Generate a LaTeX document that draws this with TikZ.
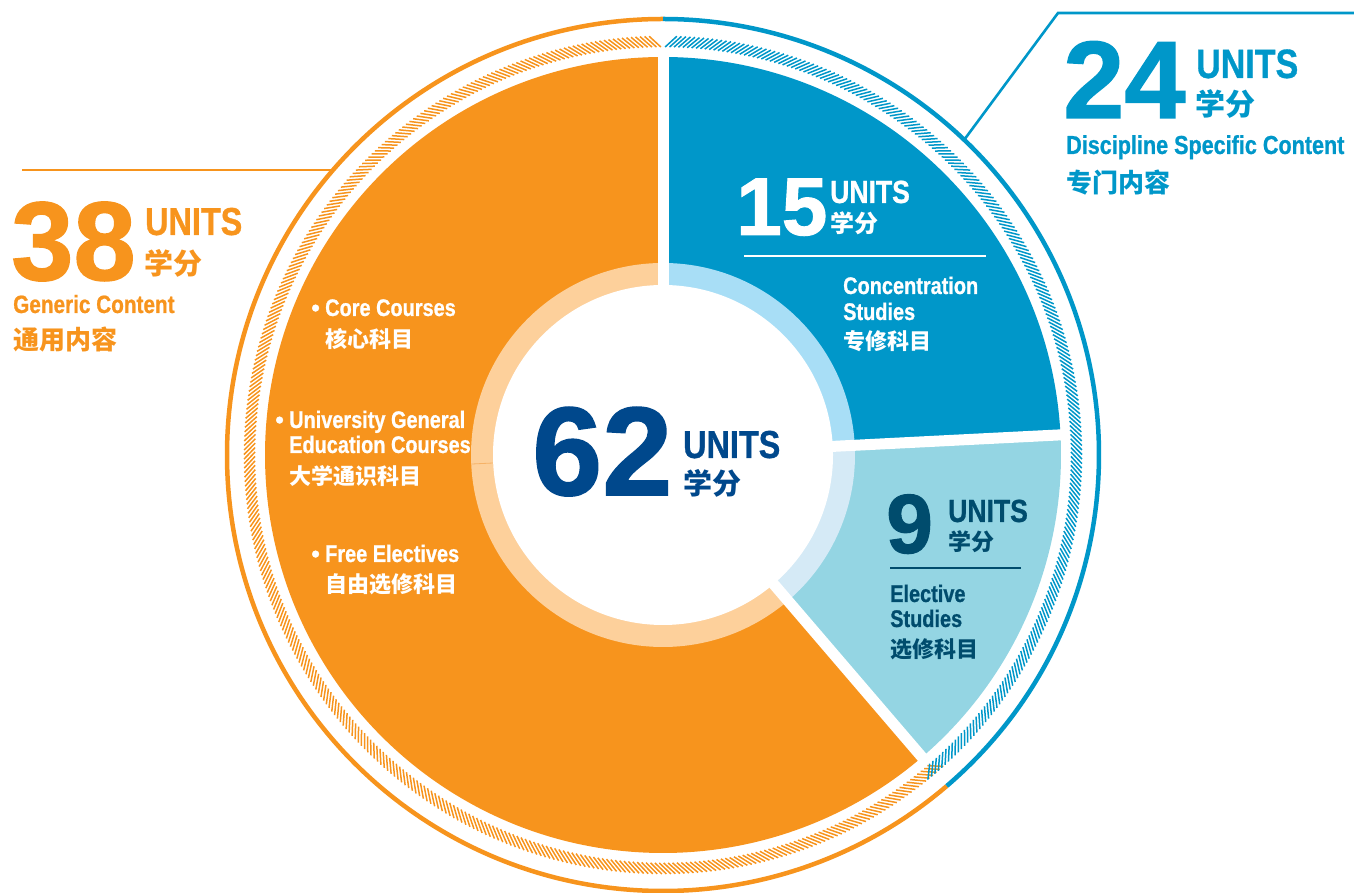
\documentclass[tikz,border=0pt]{standalone}
\usepackage{fontspec}
\setmainfont{Liberation Sans}[FakeBold=1.2]
\newfontfamily\cnd{Liberation Sans}[FakeStretch=0.83, FakeBold=0.8]
\newfontfamily\cjk{Noto Sans CJK SC}
\definecolor{orangeM}{HTML}{F7941D}
\definecolor{orangeL}{HTML}{FDD09B}
\definecolor{orangeS}{HTML}{F6B266}
\definecolor{blueM}{HTML}{0097C9}
\definecolor{blueL}{HTML}{A8DEF6}
\definecolor{tealM}{HTML}{94D5E3}
\definecolor{tealL}{HTML}{D5EAF6}
\definecolor{navy}{HTML}{00488C}
\definecolor{dteal}{HTML}{004C6D}
\tikzset{
  num/.style={font=\bfseries\fontsize{#1}{#1}\selectfont, inner sep=0pt, anchor=base west, text depth=0pt, text height=0.72em},
  cu/.style={font=\cnd\bfseries\fontsize{#1}{#1}\selectfont, inner sep=0pt, anchor=base west, text depth=0pt},
  cj/.style={font=\cjk\bfseries\fontsize{#1}{#1}\selectfont, inner sep=0pt, anchor=base west, text depth=0pt, text height=0.8em},
  bul/.style={font=\bfseries\fontsize{#1}{#1}\selectfont, inner sep=0pt, anchor=base east},
  gap/.style={white, line width=11pt},
  rim/.style={line width=4.5pt},
  tick/.style={line width=1.5pt},
  leader/.style={line width=2.6pt},
}
\begin{document}
\begin{tikzpicture}[x=1pt,y=1pt]
\useasboundingbox (0,0) rectangle (1354,893);
\coordinate (C) at (663,438);
\begin{scope}[shift={(C)}]
  % pie slices
  \fill[orangeM] (0,0) -- (90:398) arc[start angle=90, end angle=310.6, radius=398] -- cycle;
  \fill[blueM] (0,0) -- (2.9:398) arc[start angle=2.9, end angle=90, radius=398] -- cycle;
  \fill[tealM] (0,0) -- (-49.4:398) arc[start angle=-49.4, end angle=2.9, radius=398] -- cycle;
  % light inner ring
  \fill[orangeL] (0,0) -- (90:192) arc[start angle=90, end angle=310.6, radius=192] -- cycle;
  \fill[blueL] (0,0) -- (2.9:192) arc[start angle=2.9, end angle=90, radius=192] -- cycle;
  \fill[tealL] (0,0) -- (-49.4:192) arc[start angle=-49.4, end angle=2.9, radius=192] -- cycle;
  \draw[orangeS, line width=0.8pt] (182.7:170) -- (182.7:192);
  % gaps
  \draw[gap] (0,0) -- (90:401);
  \draw[gap] (0,0) -- (2.9:401);
  \draw[gap] (0,0) -- (-49.4:401);
  \fill[white] (0,0) circle[radius=170];
  % hatched ring
  \foreach \i in {0,...,355}{
    \pgfmathsetmacro\a{90.3+\i*0.62}
    \pgfmathsetmacro\b{\a+1.6}
    \draw[tick, orangeM] (\a:408) -- (\b:419);
  }
  \foreach \i in {0,...,224}{
    \pgfmathsetmacro\a{89.7-\i*0.62}
    \pgfmathsetmacro\b{\a-1.6}
    \draw[tick, blueM] (\a:408) -- (\b:419);
  }
  % outer rim
  \draw[rim, orangeM] (90:436) arc[start angle=90, end angle=310.6, radius=436];
  \draw[rim, blueM] (-49.4:436) arc[start angle=-49.4, end angle=90, radius=436];
  \coordinate (bl0) at (46.3:436);
\end{scope}
% leaders
\coordinate (ol0) at (22,723);
\coordinate (ol1) at (333,723);
\draw[leader, orangeM] (ol0) -- (ol1);
\coordinate (bl1) at (1058,880);
\coordinate (bl2) at (1354,880);
\draw[leader, blueM] (bl0) -- (bl1) -- (bl2);

% top right block
\node[num=110, text=blueM] (n24) at (1063,775) {24};
\node[cu=41, text=blueM] (u24) at (1196,815) {UNITS};
\node[cj=30, text=blueM] (x24) at (1195,777) {学分};
\node[cu=26, text=blueM] (d24) at (1066,739) {Discipline Specific Content};
\node[cj=26, text=blueM] (c24) at (1066,700) {专门内容};

% left block
\node[num=112, text=orangeM] (n38) at (11,613) {38};
\node[cu=39, text=orangeM] (u38) at (145,658) {UNITS};
\node[cj=29, text=orangeM] (x38) at (144,618) {学分};
\node[cu=25, text=orangeM] (d38) at (13,580) {Generic Content};
\node[cj=26, text=orangeM] (c38) at (13,543) {通用内容};

% orange slice items
\node[bul=24, text=white] (b1) at (320,577) {\textbullet};
\node[cu=24, text=white] (t1) at (325,577) {Core Courses};
\node[cj=22, text=white] (t1c) at (325,545) {核心科目};
\node[bul=24, text=white] (b2) at (284,465) {\textbullet};
\node[cu=24, text=white] (t2) at (289,465) {University General};
\node[cu=24, text=white] (t2b) at (289,440) {Education Courses};
\node[cj=22, text=white] (t2c) at (289,408) {大学通识科目};
\node[bul=24, text=white] (b3) at (320,331) {\textbullet};
\node[cu=24, text=white] (t3) at (325,331) {Free Electives};
\node[cj=22, text=white] (t3c) at (325,300) {自由选修科目};

% blue slice
\node[num=82, text=white] (n15) at (736,658) {15};
\node[cu=32, text=white] (u15) at (830,690) {UNITS};
\node[cj=24, text=white] (x15) at (830,660) {学分};
\coordinate (w0) at (744,637);
\coordinate (w1) at (986,637);
\draw[white, line width=2pt] (w0) -- (w1);
\node[cu=24, text=white] (s15a) at (843,599) {Concentration};
\node[cu=24, text=white] (s15b) at (843,573) {Studies};
\node[cj=22, text=white] (s15c) at (843,543) {专修科目};

% light blue slice
\node[num=84, text=dteal] (n9) at (886,340) {9};
\node[cu=32, text=dteal] (u9) at (948,371) {UNITS};
\node[cj=23, text=dteal] (x9) at (948,342) {学分};
\coordinate (v0) at (890,325);
\coordinate (v1) at (1021,325);
\draw[dteal, line width=2.5pt] (v0) -- (v1);
\node[cu=24, text=dteal] (s9a) at (890,291) {Elective};
\node[cu=24, text=dteal] (s9b) at (890,266) {Studies};
\node[cj=22, text=dteal] (s9c) at (890,235) {选修科目};

% center
\node[num=126, text=navy] (n62) at (532,398) {62};
\node[cu=39, text=navy] (u62) at (683,435) {UNITS};
\node[cj=29, text=navy] (x62) at (683,398) {学分};
\end{tikzpicture}
\end{document}
